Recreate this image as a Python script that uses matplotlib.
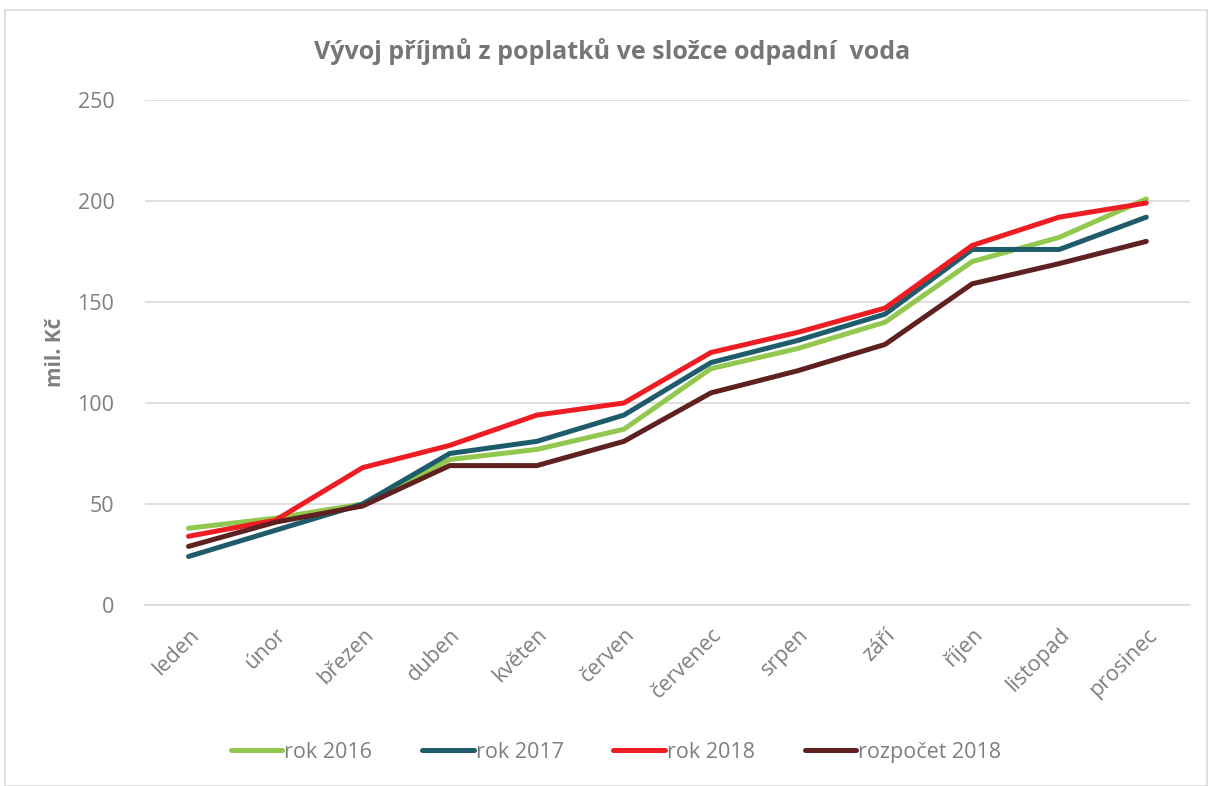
import matplotlib
matplotlib.use('Agg')
import matplotlib.pyplot as plt
from matplotlib.patches import Rectangle

# data (mil. Kč, cumulative)
months = ['leden', 'únor', 'březen', 'duben', 'květen', 'červen',
          'červenec', 'srpen', 'září', 'říjen', 'listopad', 'prosinec']
rok_2016 = [38, 43, 50, 72, 77, 87, 117, 127, 140, 170, 182, 201]
rok_2017 = [24, 37, 50, 75, 81, 94, 120, 131, 144, 176, 176, 192]
rok_2018 = [34, 42, 68, 79, 94, 100, 125, 135, 147, 178, 192, 199]
rozpocet_2018 = [29, 41, 49, 69, 69, 81, 105, 116, 129, 159, 169, 180]

series = [('rok 2016', rok_2016, '#92C84F'),
          ('rok 2017', rok_2017, '#1F5C6B'),
          ('rok 2018', rok_2018, '#EE1D23'),
          ('rozpočet 2018', rozpocet_2018, '#5E2120')]

TXT = '#7F7F7F'
plt.rcParams['font.family'] = ['Open Sans', 'DejaVu Sans']

fig = plt.figure(figsize=(12.08, 7.86), dpi=100)
fig.patches.append(Rectangle((0.004, 0.0), 0.995, 0.987, transform=fig.transFigure,
                             fill=False, edgecolor='#D9D9D9', lw=1.2))

ax = fig.add_axes([0.12, 0.2303, 0.865, 0.6425])
x = range(len(months))
for name, vals, col in series:
    ax.plot(x, vals, color=col, lw=3.6, label=name, solid_capstyle='round')

ax.set_xlim(-0.5, len(months) - 0.5)
ax.set_ylim(0, 250)
ax.set_yticks(range(0, 251, 50))
ax.set_xticks(list(x))
ax.set_xticklabels(months, rotation=45, ha='right', rotation_mode='anchor',
                   fontsize=15.5, color=TXT)
ax.tick_params(axis='y', length=0, labelsize=15.5, labelcolor=TXT, pad=22)
ax.tick_params(axis='x', length=0, pad=14)
ax.grid(True, axis='y', color='#D9D9D9', lw=1.2)
ax.set_axisbelow(True)
for sp in ['top', 'right', 'left']:
    ax.spines[sp].set_visible(False)
ax.spines['bottom'].set_color('#D9D9D9')
ax.spines['bottom'].set_linewidth(1.2)

ax.set_ylabel('mil. Kč', fontsize=15, fontweight='bold', color=TXT, labelpad=8)
fig.text(0.507, 0.934, 'Vývoj příjmů z poplatků ve složce odpadní  voda',
         ha='center', va='center', fontsize=18, fontweight='bold', color='#767676')

fig.legend(loc='center', bbox_to_anchor=(0.51, 0.043), ncol=4, frameon=False,
           fontsize=15.5, labelcolor=TXT, handlelength=2.4, handletextpad=0.1,
           columnspacing=2.3)

fig.savefig('out.png', dpi=100)
